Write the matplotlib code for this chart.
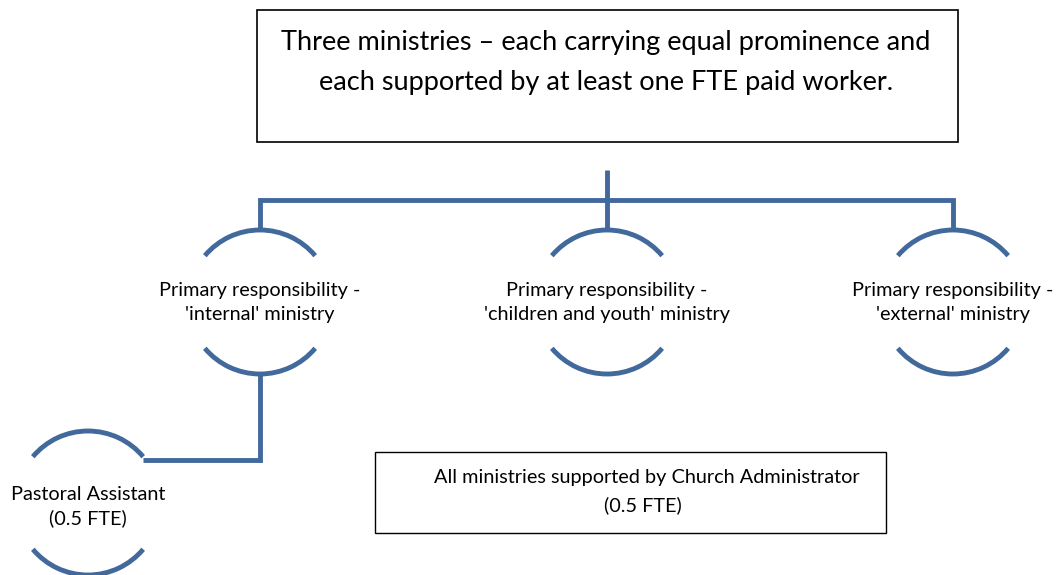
import matplotlib

matplotlib.use('Agg')
import matplotlib.pyplot as plt
from matplotlib.patches import Arc, Rectangle

# Texte du diagramme
title_lines = ["Three ministries \u2013 each carrying equal prominence and",
               "each supported by at least one FTE paid worker."]
ministries = [["Primary responsibility -", "'internal' ministry"],
              ["Primary responsibility -", "'children and youth' ministry"],
              ["Primary responsibility -", "'external' ministry"]]
assistant = ["Pastoral Assistant", "(0.5 FTE)"]
admin_lines = ["All ministries supported by Church Administrator", "(0.5 FTE)"]

# Mise en page (pixels)
blue = '#41699c'
lw = 3.5
r = 72
ministry_x = [260, 607, 953]
ministry_y = 302
assistant_xy = (88, 503)
small = 14.3
big = 19.5

fig = plt.figure(figsize=(10.56, 5.75), dpi=100)
ax = fig.add_axes([0, 0, 1, 1])
ax.set_xlim(0, 1056)
ax.set_ylim(575, 0)
ax.set_aspect('equal')
ax.axis('off')
plt.rcParams['font.family'] = ['Lato', 'DejaVu Sans']


def node(x, y, lines, base):
    # deux arcs de cercle, haut et bas
    ax.add_patch(Arc((x, y), 2 * r, 2 * r, theta1=220, theta2=320, color=blue, lw=lw))
    ax.add_patch(Arc((x, y), 2 * r, 2 * r, theta1=40, theta2=140, color=blue, lw=lw))
    ax.text(x, y + base, lines[0], ha='center', va='baseline', fontsize=small)
    ax.text(x, y + base + 24, lines[1], ha='center', va='baseline', fontsize=small)


# Cadre du haut
ax.add_patch(Rectangle((257, 10), 701, 132, fill=False, ec='black', lw=1.2))
ax.text(606, 50, title_lines[0], ha='center', va='baseline', fontsize=big)
ax.text(606, 90, title_lines[1], ha='center', va='baseline', fontsize=big)

# Connecteurs
top_arc = ministry_y - r
ax.plot([607, 607], [170, top_arc], color=blue, lw=lw, solid_capstyle='butt')
ax.plot([260, 260, 953, 953], [top_arc, 200, 200, top_arc], color=blue, lw=lw,
        solid_capstyle='butt', solid_joinstyle='miter')
ax.plot([260, 260, 143], [ministry_y + r, 460, 460], color=blue, lw=lw,
        solid_capstyle='butt', solid_joinstyle='miter')

for x, lines in zip(ministry_x, ministries):
    node(x, ministry_y, lines, -6)
node(assistant_xy[0], assistant_xy[1], assistant, -3)

# Cadre du bas
ax.add_patch(Rectangle((375, 452), 511, 81, fill=False, ec='black', lw=1.0))
ax.text(647, 483, admin_lines[0], ha='center', va='baseline', fontsize=small)
ax.text(643, 511, admin_lines[1], ha='center', va='baseline', fontsize=small)

fig.savefig('out.png', dpi=100)
